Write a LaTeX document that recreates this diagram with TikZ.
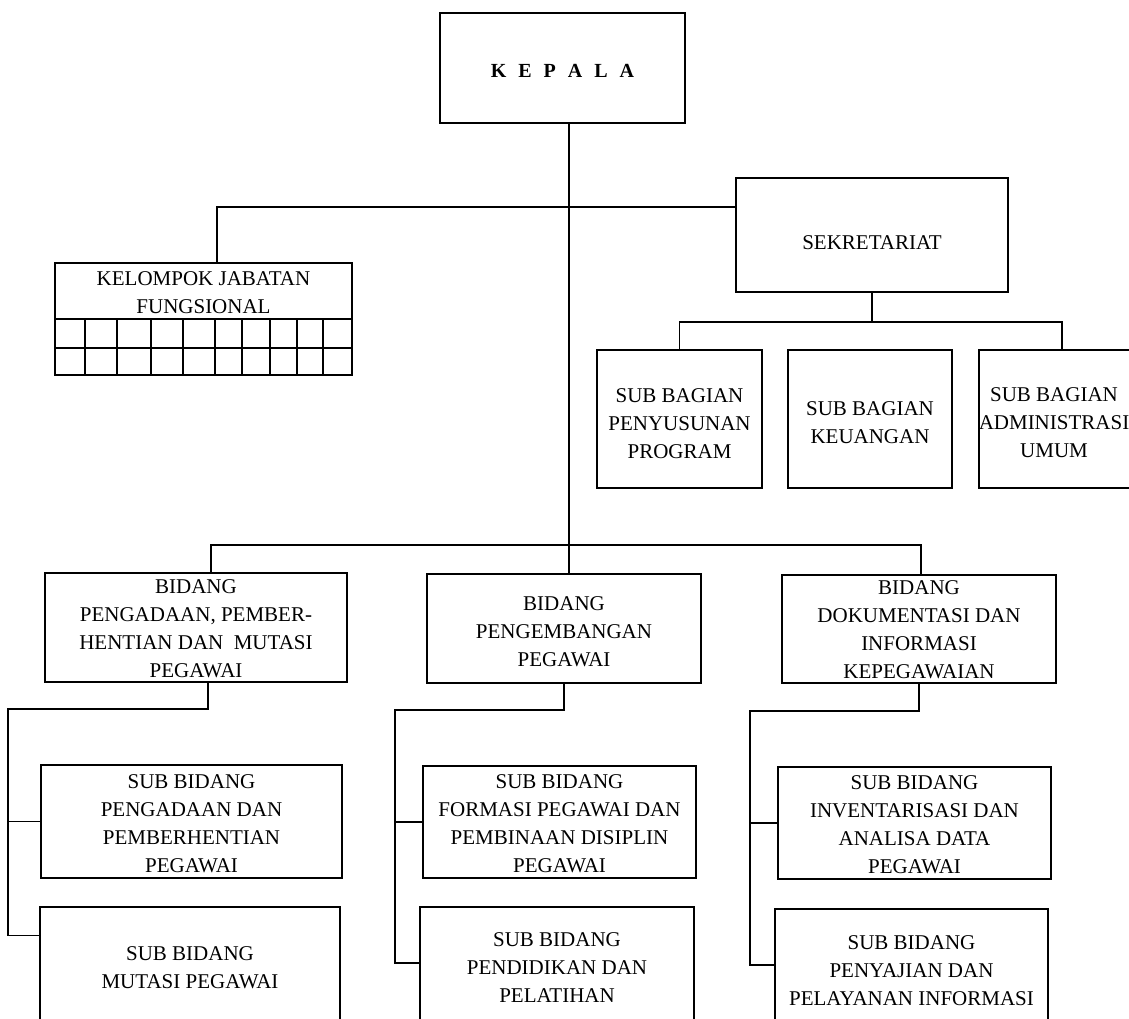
\documentclass[tikz,border=0pt]{standalone}
\usepackage{fontspec}
\setmainfont{Liberation Serif}
\usetikzlibrary{positioning,calc}

\begin{document}
\begin{tikzpicture}[
    x=1pt, y=-1pt,
    font=\fontsize{21}{28}\selectfont,
    box/.style={
        draw,
        line width=1.1pt,
        inner sep=0pt
    },
    txt/.style={
        align=center,
        inner sep=0pt
    },
    link/.style={line width=1.1pt}
]

\useasboundingbox (0,0) rectangle (1129,1018);
\clip (0,0) rectangle (1129,1018);

% Kepala
\node[box, minimum width=245pt, minimum height=110pt] (kepala) at (562.5,68) {};
\node[txt, font=\fontsize{20}{24}\selectfont\bfseries] (tkepala) at ([yshift=-3pt]kepala.center) {\spaceskip=12pt\relax K E P A L A};

% Sekretariat and its sub bagian
\node[box, minimum width=272pt, minimum height=114pt] (sekretariat) at (872,235) {};
\node[txt] (tsekretariat) at ([yshift=-8pt]sekretariat.center) {SEKRETARIAT};

\node[box, minimum width=165pt, minimum height=138pt] (sbprogram) at (679.5,419) {};
\node[txt] (tsbprogram) at ([yshift=-5pt]sbprogram.center) {SUB BAGIAN\\PENYUSUNAN\\PROGRAM};
\node[box, minimum width=164pt, minimum height=138pt] (sbkeuangan) at (870,419) {};
\node[txt] (tsbkeuangan) at ([yshift=-4pt]sbkeuangan.center) {SUB BAGIAN\\KEUANGAN};
\node[box, minimum width=166pt, minimum height=138pt] (sbumum) at (1062,419) {};
\node[txt] (tsbumum) at ([xshift=-8pt,yshift=-4pt]sbumum.center) {SUB BAGIAN\\ADMINISTRASI\\UMUM};

% Kelompok jabatan fungsional
\node[box, minimum width=297pt, minimum height=56pt] (fungsional) at (203.5,291) {};
\node[txt] (tfungsional) at ([yshift=-2pt]fungsional.center) {KELOMPOK JABATAN\\FUNGSIONAL};
\draw[link] (55,319) rectangle (352,375);
\draw[link] (55,348) -- (352,348);
\foreach \gx in {85,117,151,183,215,242,270,297,323}
    \draw[link] (\gx,319) -- (\gx,375);

% Bidang
\node[box, minimum width=302pt, minimum height=109pt] (bdpengadaan) at (196,627.5) {};
\node[txt] (tbdpengadaan) at ([yshift=-1.5pt]bdpengadaan.center) {BIDANG\\PENGADAAN, PEMBER-\\HENTIAN DAN\ \ MUTASI\\PEGAWAI};
\node[box, minimum width=274pt, minimum height=109pt] (bdpengembangan) at (564,628.5) {};
\node[txt] (tbdpengembangan) at ([yshift=-3pt]bdpengembangan.center) {BIDANG\\PENGEMBANGAN\\PEGAWAI};
\node[box, minimum width=274pt, minimum height=108pt] (bddokumentasi) at (919,629) {};
\node[txt] (tbddokumentasi) at ([yshift=-1pt]bddokumentasi.center) {BIDANG\\DOKUMENTASI DAN\\INFORMASI\\KEPEGAWAIAN};

% Sub bidang
\node[box, minimum width=301pt, minimum height=113pt] (sbdpengadaan) at (191.5,821.5) {};
\node[txt] (tsbdpengadaan) at ([yshift=-2.5pt]sbdpengadaan.center) {SUB BIDANG\\PENGADAAN DAN\\PEMBERHENTIAN\\PEGAWAI};
\node[box, minimum width=300pt, minimum height=117pt] (sbdmutasi) at (190,965.5) {};
\node[txt] (tsbdmutasi) at ([yshift=-2.5pt]sbdmutasi.center) {SUB BIDANG\\MUTASI PEGAWAI};
\node[box, minimum width=273pt, minimum height=112pt] (sbdformasi) at (559.5,822) {};
\node[txt] (tsbdformasi) at ([yshift=-2pt]sbdformasi.center) {SUB BIDANG\\FORMASI PEGAWAI DAN\\PEMBINAAN DISIPLIN\\PEGAWAI};
\node[box, minimum width=274pt, minimum height=119pt] (sbdpendidikan) at (557,966.5) {};
\node[txt] (tsbdpendidikan) at ([yshift=-1.5pt]sbdpendidikan.center) {SUB BIDANG\\PENDIDIKAN DAN\\PELATIHAN};
\node[box, minimum width=273pt, minimum height=112pt] (sbdinventaris) at (914.5,823) {};
\node[txt] (tsbdinventaris) at ([yshift=-2pt]sbdinventaris.center) {SUB BIDANG\\INVENTARISASI DAN\\ANALISA DATA\\PEGAWAI};
\node[box, minimum width=273pt, minimum height=121pt] (sbdpenyajian) at (911.5,969.5) {};
\node[txt] (tsbdpenyajian) at ([yshift=-1pt]sbdpenyajian.center) {SUB BIDANG\\PENYAJIAN DAN\\PELAYANAN INFORMASI};

% Bus points
\coordinate (sbus) at (872,322);
\coordinate (bbus) at (569,545);
\coordinate (lbus) at (8,709);
\coordinate (mbus) at (395,710);
\coordinate (rbus) at (750,711);

% Main line
\draw[link] ([xshift=6.5pt]kepala.south) -- ([xshift=6.5pt]kepala.south |- bdpengembangan.north);
\draw[link] ([xshift=13.5pt]fungsional.north) |- ([yshift=28pt]sekretariat.west);

% Sekretariat lines
\draw[link] (sekretariat.south) -- (sbus);
\draw[link] (sbprogram.north) |- (sbus) -| (sbumum.north);

% Bidang lines
\draw[link] ([xshift=15pt]bdpengadaan.north) |- (bbus) -| ([xshift=2pt]bddokumentasi.north);

% Sub bidang lines
\draw[link] ([xshift=12pt]bdpengadaan.south) |- (lbus) |- ([yshift=30pt]sbdmutasi.west);
\draw[link] (sbdpengadaan.west) -- (sbdpengadaan.west -| lbus);
\draw[link] (bdpengembangan.south) |- (mbus) |- ([yshift=3.5pt]sbdpendidikan.west);
\draw[link] (sbdformasi.west) -- (sbdformasi.west -| mbus);
\draw[link] (bddokumentasi.south) |- (rbus) |- ([yshift=4.5pt]sbdpenyajian.west);
\draw[link] (sbdinventaris.west) -- (sbdinventaris.west -| rbus);

\end{tikzpicture}
\end{document}
